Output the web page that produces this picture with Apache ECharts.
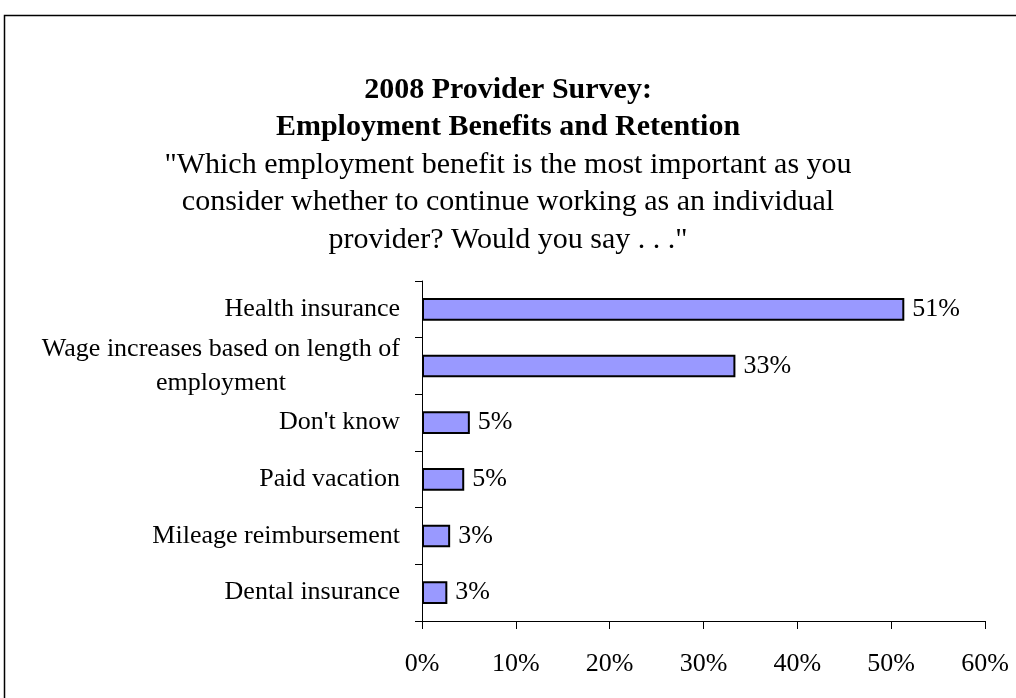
<!DOCTYPE html>
<html>
<head>
<meta charset="utf-8">
<style>
  html, body { margin: 0; padding: 0; background: #fff; }
  #chart { width: 1016px; height: 698px; }
</style>
<script src="https://cdn.jsdelivr.net/npm/echarts@6/dist/echarts.min.js"></script>
</head>
<body>
<div id="chart"></div>
<script>
// Survey answers, top to bottom
const categories = [
  'Health insurance',
  'Wage increases based on length of\nemployment',
  "Don't know",
  'Paid vacation',
  'Mileage reimbursement',
  'Dental insurance'
];
// Share of respondents (%)
const shares = [51.4, 33.4, 5.1, 4.5, 3.0, 2.7];
// Value axis ticks (%)
const xTicks = [0, 10, 20, 30, 40, 50, 60];

const FONT = '"Liberation Serif", "Times New Roman", serif';

const chart = echarts.init(document.getElementById('chart'), null, { renderer: 'canvas' });

chart.setOption({
  backgroundColor: '#ffffff',
  animation: false,
  title: {
    left: 'center',
    top: 67,
    itemGap: 0,
    text: '2008 Provider Survey:\nEmployment Benefits and Retention',
    textStyle: {
      fontFamily: FONT,
      fontSize: 30,
      fontWeight: 'bold',
      color: '#000',
      lineHeight: 37
    },
    subtext: '"Which employment benefit is the most important as you\nconsider whether to continue working as an individual\nprovider? Would you say . . ."',
    subtextStyle: {
      fontFamily: FONT,
      fontSize: 30,
      color: '#000',
      lineHeight: 37.5
    }
  },
  graphic: [{
    type: 'rect',
    silent: true,
    shape: { x: 4.5, y: 15.5, width: 1200, height: 1000 },
    style: { fill: 'none', stroke: '#000', lineWidth: 1.5 }
  }],
  grid: { left: 422, top: 281, width: 563, height: 340, containLabel: false },
  xAxis: {
    type: 'value',
    min: xTicks[0],
    max: xTicks[xTicks.length - 1],
    interval: xTicks[1] - xTicks[0],
    axisLine: { show: true, lineStyle: { color: '#000', width: 1 } },
    axisTick: { show: true, length: 8, lineStyle: { color: '#000', width: 1 } },
    splitLine: { show: false },
    axisLabel: {
      margin: 30,
      formatter: '{value}%',
      fontFamily: FONT,
      fontSize: 26,
      color: '#000'
    }
  },
  yAxis: {
    type: 'category',
    inverse: true,
    data: categories,
    axisLine: { show: true, lineStyle: { color: '#000', width: 1 } },
    axisTick: { show: true, length: 7, lineStyle: { color: '#000', width: 1 } },
    splitLine: { show: false },
    axisLabel: {
      margin: 22,
      align: 'right',
      fontFamily: FONT,
      fontSize: 26,
      color: '#000',
      formatter: function (v) {
        return v.split('\n').map(function (s) { return '{c|' + s + '}'; }).join('\n');
      },
      rich: {
        c: {
          align: 'center',
          fontFamily: FONT,
          fontSize: 26,
          color: '#000',
          lineHeight: 34
        }
      }
    }
  },
  series: [{
    type: 'bar',
    data: shares,
    barWidth: '40%',
    itemStyle: { color: '#9999FF', borderColor: '#000', borderWidth: 2 },
    label: {
      show: true,
      position: 'right',
      distance: 8,
      fontFamily: FONT,
      fontSize: 26,
      color: '#000',
      formatter: function (p) { return Math.round(p.value) + '%'; }
    }
  }]
});
</script>
</body>
</html>
